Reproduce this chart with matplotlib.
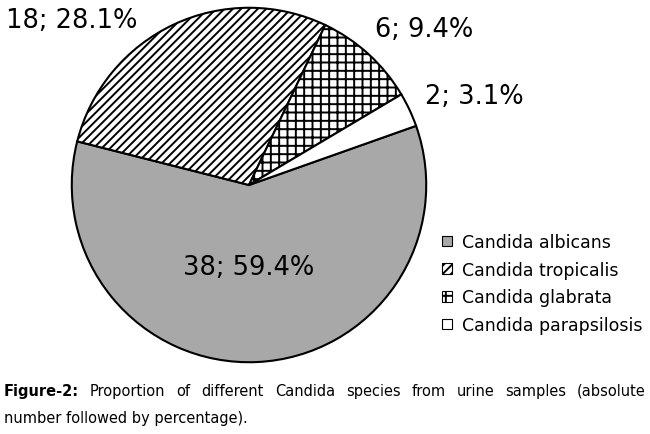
import matplotlib
matplotlib.use('Agg')
import matplotlib.pyplot as plt
from matplotlib.patches import Patch
from matplotlib import font_manager as fm

species = ['Candida albicans', 'Candida tropicalis', 'Candida glabrata', 'Candida parapsilosis']
counts = [38, 18, 6, 2]
percents = [59.4, 28.1, 9.4, 3.1]
fills = ['#a8a8a8', 'white', 'white', 'white']
hatches = [None, '////', '++', None]

# label centres in pie data units (radius = 1)
label_pos = [(0.0, -0.46), (-1.0, 0.93), (0.99, 0.88), (1.27, 0.50)]

caption_words = ['Proportion', 'of', 'different', 'Candida', 'species', 'from',
                 'urine', 'samples', '(absolute']
caption_line2 = 'number followed by percentage).'

plt.rcParams['hatch.linewidth'] = 1.4
plt.rcParams['font.family'] = ['DejaVu Sans']


def pick_caption_font():
    # a narrow face if one is around, else Liberation Sans a bit smaller
    for fam, st, size in [('Liberation Sans Narrow', 'normal', 13),
                          ('DejaVu Sans', 'condensed', 11.7)]:
        try:
            path = fm.findfont(fm.FontProperties(family=fam, stretch=st),
                               fallback_to_default=False)
        except Exception:
            continue
        if 'Narrow' in path or 'Condensed' in path:
            return fam, st, size
    return 'Liberation Sans', 'normal', 12


cap_fam, cap_stretch, cap_size = pick_caption_font()

fig = plt.figure(figsize=(6.5, 4.35), dpi=100)
W, H = 650, 435
cx, cy, r = 249, 186, 179
ax = fig.add_axes([(cx - r) / W, (H - cy - r) / H, 2 * r / W, 2 * r / H])

wedges, _ = ax.pie(counts, colors=fills, startangle=19.5, counterclock=False,
                   wedgeprops=dict(edgecolor='black', linewidth=1.5))
for w, h in zip(wedges, hatches):
    if h:
        w.set_hatch(h)
ax.set_xlim(-1.01, 1.01)
ax.set_ylim(-1.01, 1.01)
ax.set_aspect('equal')
ax.axis('off')

for n, p, (x, y) in zip(counts, percents, label_pos):
    ax.text(x, y, f'{n}; {p}%', ha='center', va='center', fontsize=18.5,
            clip_on=False)

handles = [Patch(facecolor=f, edgecolor='black', hatch=h, linewidth=0.8)
           for f, h in zip(fills, hatches)]
fig.legend(handles, species, loc='upper left', bbox_to_anchor=(442 / W, 1 - 234 / H),
           frameon=False, fontsize=12.5, handlelength=0.55, handleheight=0.55,
           handletextpad=0.6, labelspacing=0.56, borderpad=0, borderaxespad=0)

# caption, first line justified across the width
left, right = 4, 646
y1, y2 = 1 - 396 / H, 1 - 423 / H
kw = dict(fontsize=cap_size, family=cap_fam, fontstretch=cap_stretch)
texts = [fig.text(0, y1, 'Figure-2:', fontweight='bold', **kw)]
for wd in caption_words:
    texts.append(fig.text(0, y1, wd, **kw))
fig.canvas.draw()
rend = fig.canvas.get_renderer()
widths = [t.get_window_extent(rend).width for t in texts]
gap = (right - left - sum(widths)) / (len(texts) - 1)
x = left
for t, wdt in zip(texts, widths):
    t.set_x(x / W)
    x += wdt + gap
fig.text(left / W, y2, caption_line2, **kw)

fig.savefig('out.png', dpi=100)
